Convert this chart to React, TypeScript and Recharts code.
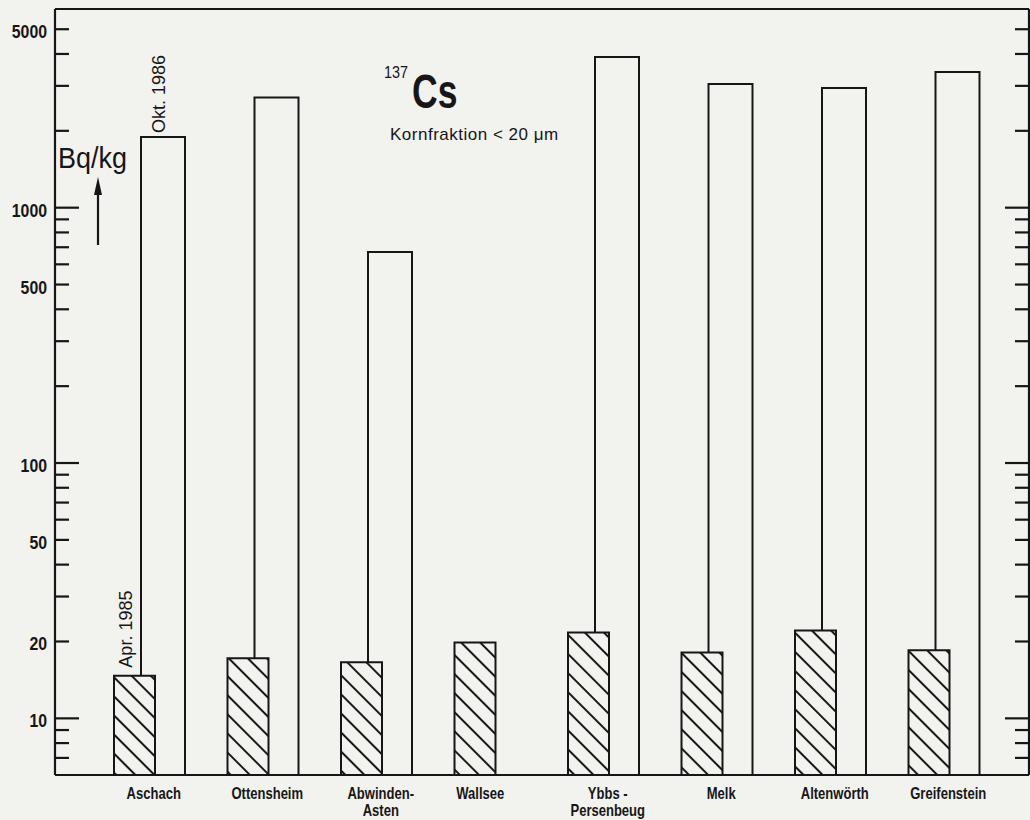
import React from "react";
import { BarChart, Bar, XAxis, YAxis, ReferenceLine, LabelList } from "recharts";

// ---- data ----
const categories = [
  "Aschach",
  "Ottensheim",
  "Abwinden-Asten",
  "Wallsee",
  "Ybbs-Persenbeug",
  "Melk",
  "Altenwörth",
  "Greifenstein",
];
const categoryLabelLines = [
  ["Aschach"],
  ["Ottensheim"],
  ["Abwinden-", "Asten"],
  ["Wallsee"],
  ["Ybbs -", "Persenbeug"],
  ["Melk"],
  ["Altenwörth"],
  ["Greifenstein"],
];
const apr1985 = [14.7, 17.2, 16.6, 19.8, 21.7, 18.1, 22.1, 18.5];
const okt1986: (number | null)[] = [1890, 2700, 670, null, 3890, 3050, 2940, 3400];
const seriesNames = ["Apr. 1985", "Okt. 1986"];
const yTicks = [
  7, 8, 9, 10, 20, 30, 40, 50, 60, 70, 80, 90, 100, 200, 300, 400, 500, 600, 700,
  800, 900, 1000, 2000, 3000, 4000, 5000,
];
const yTickLabels = [10, 20, 50, 100, 500, 1000, 5000];
const yMajorTicks = [10, 100, 1000];
const yDomain = [6, 6000];

const data = categories.map((name, i) => ({
  name,
  apr: apr1985[i],
  okt: okt1986[i],
}));

// ---- styles ----
const INK = "#161616";
const BG = "#f2f2ef";
const SANS = "'Liberation Sans', Arial, sans-serif";

// condensed text: regular font squeezed horizontally
const CText = ({ x, y, sx = 0.82, children, ...rest }: any) => (
  <text
    x={0}
    y={0}
    transform={`translate(${x} ${y}) scale(${sx} 1)`}
    fontFamily={SANS}
    fill={INK}
    {...rest}
  >
    {children}
  </text>
);

const LeftTick = (props: any) => {
  const { x, y, payload } = props;
  const v = payload.value;
  const len = yMajorTicks.includes(v) ? 24 : 14;
  return (
    <g>
      <line x1={x} x2={x + len} y1={y} y2={y} stroke={INK} strokeWidth={2.2} />
      {yTickLabels.includes(v) && (
        <CText x={x - 8} y={y + 9} sx={0.88} textAnchor="end" fontWeight="bold" fontSize={18}>
          {v}
        </CText>
      )}
    </g>
  );
};

const RightTick = (props: any) => {
  const { x, y, payload } = props;
  const v = payload.value;
  const len = yMajorTicks.includes(v) ? 24 : 14;
  return <line x1={x} x2={x - len} y1={y} y2={y} stroke={INK} strokeWidth={2.2} />;
};

const XTick = (props: any) => {
  const { x, y, payload } = props;
  const i = categories.indexOf(payload.value);
  const lines = categoryLabelLines[i] || [payload.value];
  const shift = okt1986[i] != null ? 19 : 5;
  return (
    <g>
      {lines.map((l, k) => (
        <CText
          key={k}
          x={x + shift}
          y={y + 24 + k * 17}
          sx={0.79}
          textAnchor="middle"
          fontWeight="bold"
          fontSize={16.5}
        >
          {l}
        </CText>
      ))}
    </g>
  );
};

const makeSeriesLabel = (text: string, dx: number, gap: number) => (props: any) => {
  const vb = props.viewBox || props;
  if (props.index !== 0) return null;
  const bx = Number(vb.x) + Number(vb.width) / 2 + dx;
  const by = Number(vb.y) - gap;
  return (
    <text
      x={bx}
      y={by}
      transform={`rotate(-90 ${bx} ${by})`}
      textAnchor="start"
      fontFamily={SANS}
      fontSize={18}
      fill={INK}
    >
      {text}
    </text>
  );
};

export default function App() {
  return (
    <div
      style={{
        position: "absolute",
        left: 0,
        top: 0,
        width: 1030,
        height: 820,
        background: BG,
        overflow: "hidden",
      }}
    >
      <BarChart
        width={1030}
        height={820}
        data={data}
        margin={{ top: 9, right: 0, bottom: 0, left: 0 }}
        barGap={0}
        barCategoryGap={0}
      >
        <defs>
          <pattern
            id="hatch"
            patternUnits="userSpaceOnUse"
            width={13.5}
            height={13.5}
            patternTransform="rotate(-45)"
          >
            <rect x={0} y={0} width={13.5} height={13.5} fill={BG} />
            <line x1={6.75} y1={0} x2={6.75} y2={13.5} stroke={INK} strokeWidth={2} />
          </pattern>
        </defs>
        <XAxis
          xAxisId="a"
          dataKey="name"
          type="category"
          interval={0}
          padding={{ left: 23, right: 43 }}
          height={45}
          axisLine={{ stroke: INK, strokeWidth: 2.2 }}
          tickLine={false}
          tickSize={0}
          tickMargin={0}
          tick={<XTick />}
        />
        <XAxis
          xAxisId="b"
          dataKey="name"
          type="category"
          hide
          padding={{ left: 51, right: 15 }}
        />
        <YAxis
          yAxisId="l"
          scale="log"
          type="number"
          domain={yDomain}
          allowDataOverflow
          ticks={yTicks}
          interval={0}
          width={55}
          axisLine={{ stroke: INK, strokeWidth: 2.2 }}
          tickLine={false}
          tickSize={0}
          tickMargin={0}
          tick={<LeftTick />}
        />
        <YAxis
          yAxisId="r"
          orientation="right"
          scale="log"
          type="number"
          domain={yDomain}
          allowDataOverflow
          ticks={yTicks}
          interval={0}
          width={1}
          axisLine={{ stroke: INK, strokeWidth: 2.2 }}
          tickLine={false}
          tickSize={0}
          tickMargin={0}
          tick={<RightTick />}
        />
        <ReferenceLine yAxisId="l" xAxisId="a" y={6000} stroke={INK} strokeWidth={2.2} />
        <Bar
          dataKey="okt"
          name={seriesNames[1]}
          xAxisId="b"
          yAxisId="l"
          barSize={44}
          fill={BG}
          stroke={INK}
          strokeWidth={2}
          isAnimationActive={false}
        >
          <LabelList dataKey="okt" content={makeSeriesLabel(seriesNames[1], 2.5, 4)} />
        </Bar>
        <Bar
          dataKey="apr"
          name={seriesNames[0]}
          xAxisId="a"
          yAxisId="l"
          barSize={41}
          fill="url(#hatch)"
          stroke={INK}
          strokeWidth={2}
          isAnimationActive={false}
        >
          <LabelList dataKey="apr" content={makeSeriesLabel(seriesNames[0], -2.5, 8)} />
        </Bar>
      </BarChart>
      {/* unit label, arrow and title */}
      <svg
        width={1030}
        height={820}
        style={{ position: "absolute", left: 0, top: 0, pointerEvents: "none" }}
      >
        <CText x={58} y={168} sx={0.9} fontSize={30}>
          Bq/kg
        </CText>
        <line x1={98} y1={245} x2={98} y2={190} stroke={INK} strokeWidth={2.2} />
        <polygon points="98,177 94,195 102,195" fill={INK} />
        <CText x={384} y={78} sx={0.9} fontSize={16}>
          137
        </CText>
        <CText x={412} y={108} sx={0.74} fontWeight="bold" fontSize={48}>
          Cs
        </CText>
        <text x={390} y={140} fontFamily={SANS} fontSize={17} letterSpacing={0.5} fill={INK}>
          Kornfraktion &lt; 20 μm
        </text>
      </svg>
    </div>
  );
}
